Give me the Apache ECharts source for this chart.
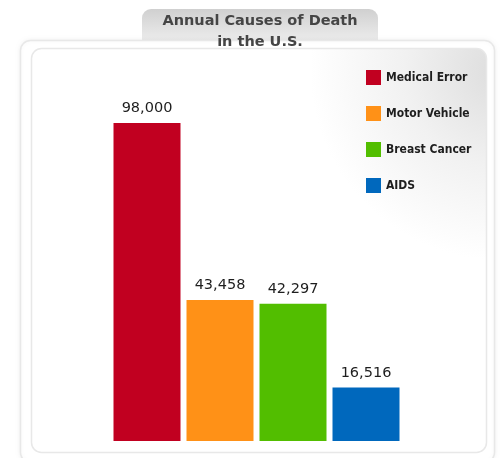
<!DOCTYPE html>
<html>
<head>
<meta charset="utf-8">
<script src="https://cdn.jsdelivr.net/npm/echarts@6/dist/echarts.min.js"></script>
<style>
  html, body { margin: 0; padding: 0; background: #ffffff; }
  #chart { width: 500px; height: 458px; }
</style>
</head>
<body>
<div id="chart"></div>
<script>
// Annual causes of death in the U.S.
const categories = ['Medical Error', 'Motor Vehicle', 'Breast Cancer', 'AIDS'];
const deaths = [98000, 43458, 42297, 16516];
const barColors = ['#c10020', '#ff9117', '#52be00', '#0068bd'];

const chart = echarts.init(document.getElementById('chart'));

// One series per cause so each gets its own legend entry; they share a slot via barGap -100%
const series = categories.map((name, i) => ({
  name: name,
  type: 'bar',
  barWidth: 67,
  barGap: '-100%',
  data: categories.map((_, j) => (j === i ? deaths[i] : null)),
  itemStyle: { color: barColors[i] },
  label: {
    show: true,
    position: 'top',
    distance: 7,
    fontFamily: 'DejaVu Sans',
    fontSize: 14.5,
    color: '#1e1e1e',
    formatter: p => p.value.toLocaleString('en-US')
  }
}));

chart.setOption({
  animation: false,
  backgroundColor: '#ffffff',
  title: {
    text: 'Annual Causes of Death\nin the U.S.',
    left: 260,
    top: 11,
    padding: 0,
    textAlign: 'center',
    z: 20,
    textStyle: {
      fontFamily: 'DejaVu Sans',
      fontWeight: 'bold',
      fontSize: 14.5,
      lineHeight: 21,
      color: '#454545'
    }
  },
  graphic: [
    {
      // title tab
      type: 'rect',
      z: -5,
      shape: { x: 142, y: 9, width: 236, height: 40, r: [9, 9, 0, 0] },
      style: {
        fill: new echarts.graphic.LinearGradient(0, 0, 0, 1, [
          { offset: 0, color: '#d0d0d0' },
          { offset: 1, color: '#f4f4f4' }
        ])
      }
    },
    {
      // outer panel
      type: 'rect',
      z: -4,
      shape: { x: 20.5, y: 40.5, width: 474, height: 422, r: 10 },
      style: {
        fill: '#ffffff',
        stroke: '#e8e8e8',
        lineWidth: 1.5,
        shadowBlur: 4,
        shadowColor: 'rgba(0,0,0,0.05)'
      }
    },
    {
      // inner panel with soft grey shading in the upper right
      type: 'rect',
      z: -3,
      shape: { x: 31.5, y: 48.5, width: 455, height: 404, r: 10 },
      style: {
        fill: new echarts.graphic.RadialGradient(500, 70, 190, [
          { offset: 0, color: '#dddddd' },
          { offset: 0.5, color: '#f1f1f1' },
          { offset: 1, color: '#ffffff' }
        ], true),
        stroke: '#e8e8e8',
        lineWidth: 1.5
      }
    }
  ],
  legend: {
    data: categories,
    orient: 'vertical',
    left: 366,
    top: 70,
    padding: 0,
    itemWidth: 15,
    itemHeight: 15,
    itemGap: 21,
    icon: 'rect',
    textStyle: {
      fontFamily: 'DejaVu Sans Condensed',
      fontWeight: 'bold',
      fontSize: 12,
      color: '#1e1e1e'
    }
  },
  grid: { left: 110.5, right: 97.5, top: 123, bottom: 17 },
  xAxis: {
    type: 'category',
    data: categories,
    show: false
  },
  yAxis: {
    type: 'value',
    min: 0,
    max: Math.max(...deaths),
    show: false,
    splitLine: { show: false }
  },
  series: series
});
</script>
</body>
</html>
